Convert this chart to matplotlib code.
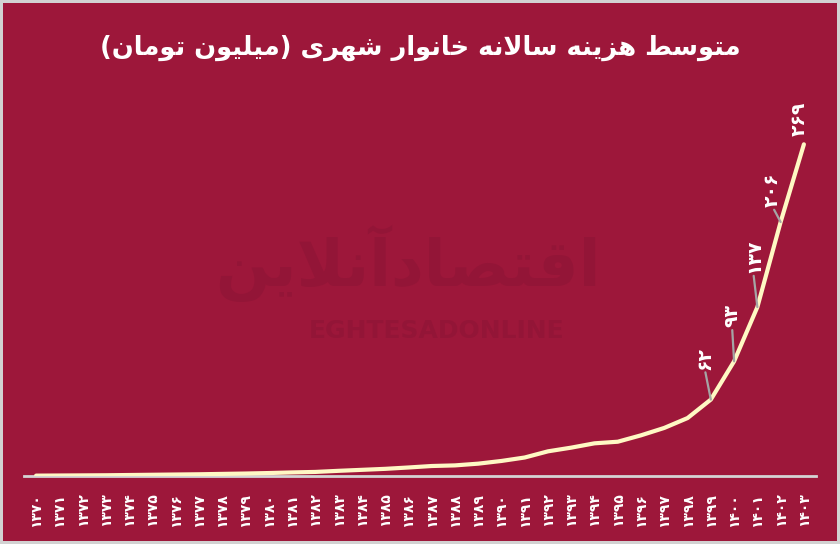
import matplotlib
matplotlib.use("Agg")
import matplotlib.pyplot as plt

# داده‌ها: متوسط هزینه سالانه خانوار شهری (میلیون تومان)
years = list(range(1370, 1404))
values = [0.3, 0.4, 0.5, 0.6, 0.8, 1.0, 1.2, 1.4, 1.7, 2.0,
          2.4, 2.9, 3.3, 4.2, 5.0, 5.8, 6.9, 8.1, 8.6, 10.0,
          12.2, 15.0, 20.0, 23.0, 26.5, 27.8, 33.0, 39.0, 47.0, 62.0,
          93.0, 137.0, 206.0, 269.0]
labelled_years = [1399, 1400, 1401, 1402, 1403]
label_offsets = [(-6, 30), (-2, 34), (-4, 34), (-8, 15), (-5, 8)]
show_leader = [True, True, True, True, False]

title = "متوسط هزینه سالانه خانوار شهری (میلیون تومان)"
watermark_fa = "اقتصادآنلاین"
watermark_en = "EGHTESADONLINE"

BG = "#9D173A"
LINE = "#FFF8C4"
MARK = "#931537"

# فرم‌های نمایشی حروف: (تنها، پایانی، آغازی، میانی)
FORMS = {
    "ا": ("\uFE8D", "\uFE8E", None, None),
    "آ": ("\uFE81", "\uFE82", None, None),
    "ت": ("\uFE95", "\uFE96", "\uFE97", "\uFE98"),
    "خ": ("\uFEA5", "\uFEA6", "\uFEA7", "\uFEA8"),
    "د": ("\uFEA9", "\uFEAA", None, None),
    "ر": ("\uFEAD", "\uFEAE", None, None),
    "ز": ("\uFEAF", "\uFEB0", None, None),
    "س": ("\uFEB1", "\uFEB2", "\uFEB3", "\uFEB4"),
    "ش": ("\uFEB5", "\uFEB6", "\uFEB7", "\uFEB8"),
    "ص": ("\uFEB9", "\uFEBA", "\uFEBB", "\uFEBC"),
    "ط": ("\uFEC1", "\uFEC2", "\uFEC3", "\uFEC4"),
    "ق": ("\uFED5", "\uFED6", "\uFED7", "\uFED8"),
    "ل": ("\uFEDD", "\uFEDE", "\uFEDF", "\uFEE0"),
    "م": ("\uFEE1", "\uFEE2", "\uFEE3", "\uFEE4"),
    "ن": ("\uFEE5", "\uFEE6", "\uFEE7", "\uFEE8"),
    "ه": ("\uFEE9", "\uFEEA", "\uFEEB", "\uFEEC"),
    "و": ("\uFEED", "\uFEEE", None, None),
    "ی": ("\uFBFC", "\uFBFD", "\uFBFE", "\uFBFF"),
}
LAM_ALEF = {"ا": ("\uFEFB", "\uFEFC"), "آ": ("\uFEF5", "\uFEF6")}
MIRROR = {"(": ")", ")": "("}


def dual(ch):
    return ch in FORMS and FORMS[ch][2] is not None


def shape(text):
    """شکل‌دهی ساده حروف فارسی و برگرداندن ترتیب برای نمایش"""
    out = []
    i = 0
    prev_joins = False
    while i < len(text):
        ch = text[i]
        nxt = text[i + 1] if i + 1 < len(text) else ""
        if ch not in FORMS:
            out.append(MIRROR.get(ch, ch))
            prev_joins = False
            i += 1
            continue
        if ch == "ل" and nxt in LAM_ALEF:
            out.append(LAM_ALEF[nxt][1 if prev_joins else 0])
            prev_joins = False
            i += 2
            continue
        iso, fin, ini, med = FORMS[ch]
        joins_next = dual(ch) and nxt in FORMS
        if prev_joins and joins_next:
            g = med
        elif prev_joins:
            g = fin
        elif joins_next:
            g = ini
        else:
            g = iso
        out.append(g)
        prev_joins = dual(ch)
        i += 1
    return "".join(reversed(out))


def fa_digits(n):
    return "".join(chr(0x06F0 + int(d)) for d in str(n))


plt.rcParams["font.family"] = ["DejaVu Sans"]

fig = plt.figure(figsize=(8.4, 5.44), dpi=100)
fig.patch.set_facecolor(BG)
fig.patch.set_edgecolor("#d2d2d2")
fig.patch.set_linewidth(3)

ax = fig.add_axes([24 / 840, 0.125, 792 / 840, 0.68])
ax.set_facecolor(BG)

# واترمارک
fig.text(0.485, 0.515, shape(watermark_fa), color=MARK, fontsize=46, fontweight="bold",
         ha="center", va="center", zorder=0)
fig.text(0.52, 0.392, watermark_en, color=MARK, fontsize=18, fontweight="bold",
         ha="center", va="center", zorder=0)

ax.plot(years, values, color=LINE, lw=3.0, solid_capstyle="round", zorder=3)

for yr, off, lead in zip(labelled_years, label_offsets, show_leader):
    v = values[years.index(yr)]
    props = None
    if lead:
        props = dict(arrowstyle="-", color="#a5a5a5", lw=1.6, shrinkA=0, shrinkB=0,
                     relpos=(0.5, 0.0))
    ax.annotate(fa_digits(int(v)), xy=(yr, v), xytext=off, textcoords="offset pixels",
                rotation=90, ha="center", va="bottom", color="white", fontsize=13.5,
                fontweight="bold", arrowprops=props, zorder=4)

ax.set_xlim(years[0] - 0.52, years[-1] + 0.52)
ax.set_ylim(0, 300)
ax.set_xticks(years)
ax.set_xticklabels([fa_digits(y) for y in years], rotation=90, color="white",
                   fontsize=10, fontweight="bold")
ax.tick_params(axis="x", length=0, pad=12)
ax.set_yticks([])
for s in ["top", "left", "right"]:
    ax.spines[s].set_visible(False)
ax.spines["bottom"].set_color("#d4d4d4")
ax.spines["bottom"].set_linewidth(2)

fig.text(0.5, 0.912, shape(title), color="white", fontsize=18.5, fontweight="bold",
         ha="center", va="center")

fig.savefig("out.png", dpi=100, facecolor=BG, edgecolor=fig.patch.get_edgecolor())
